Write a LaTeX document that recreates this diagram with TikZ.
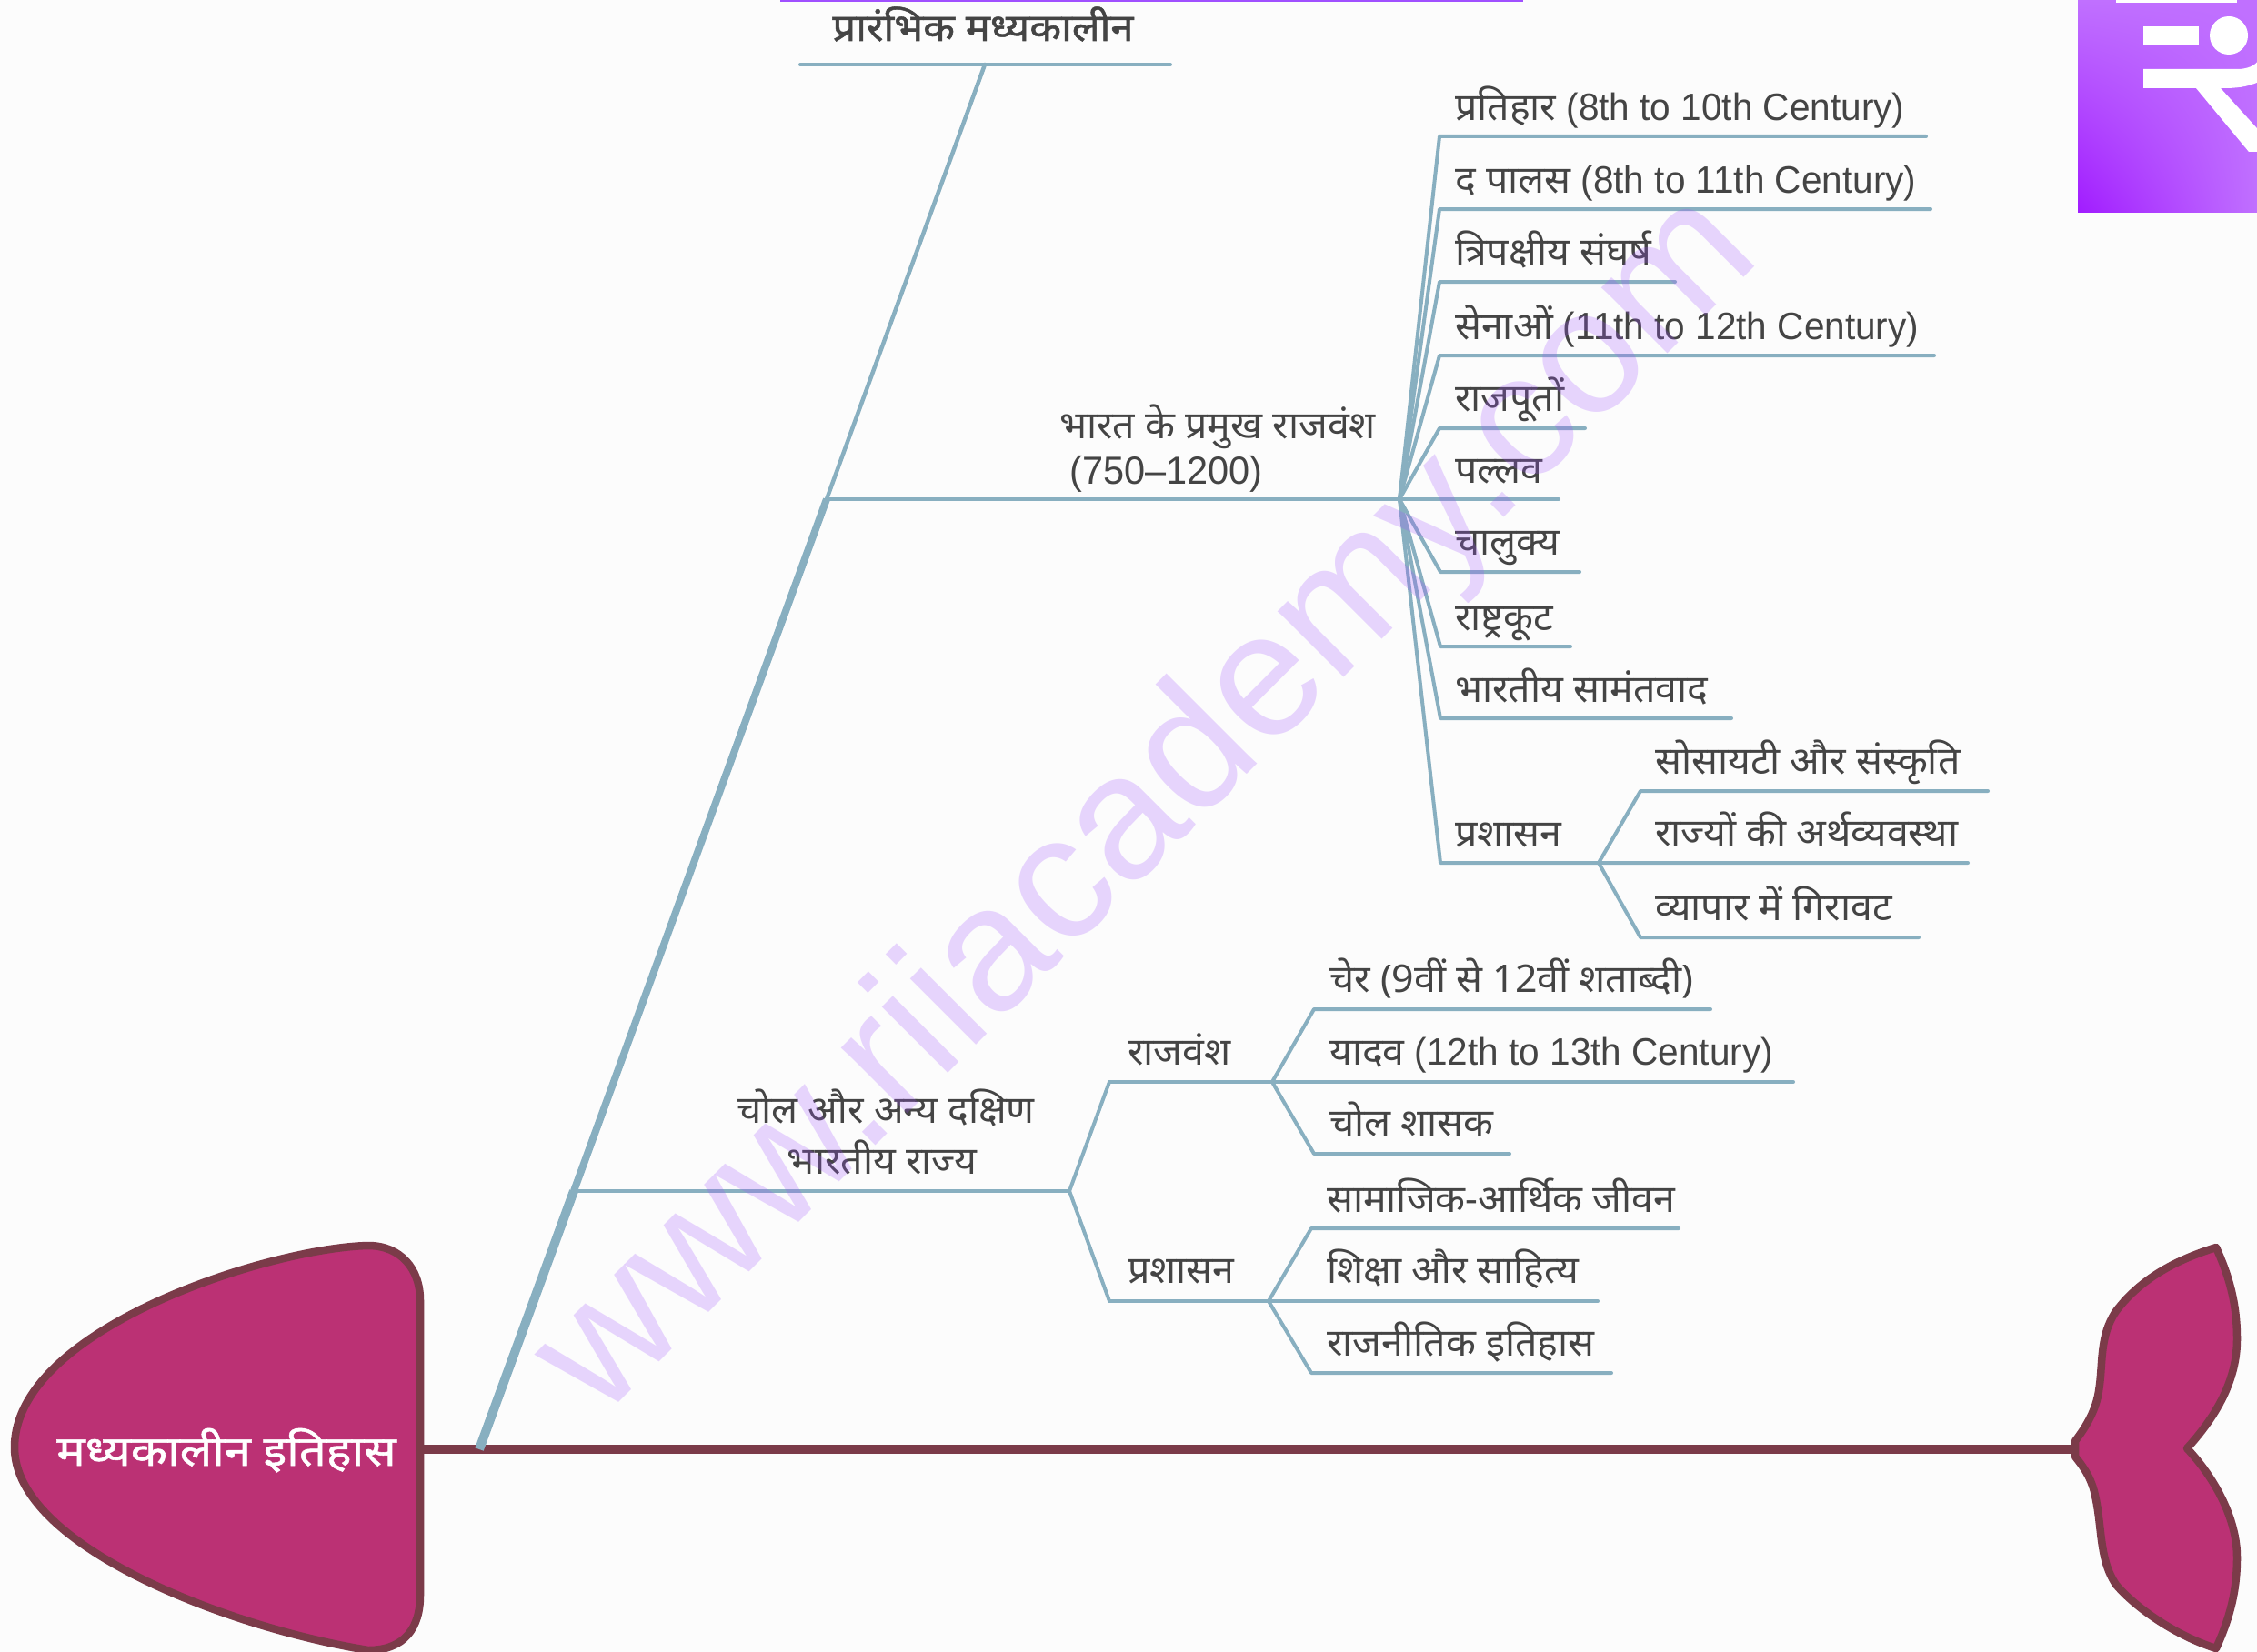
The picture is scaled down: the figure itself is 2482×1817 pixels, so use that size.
\documentclass[tikz,border=0pt]{standalone}
\usetikzlibrary{shadings}
\usepackage{fontspec}
\setmainfont[Script=Devanagari,FakeStretch=1.02]{Noto Sans}
\newfontfamily\latn[FakeStretch=0.965]{Liberation Sans}
\newfontfamily\wmfont{Liberation Sans}
\newfontfamily\heavy[Script=Devanagari,FakeStretch=1.08,FakeBold=1.2]{Noto Sans}
\newfontfamily\heavyroot[Script=Devanagari,FakeStretch=1.14,FakeBold=1.2]{Noto Sans}
\definecolor{bone}{HTML}{88AFC0}
\definecolor{fishline}{HTML}{7B3B49}
\definecolor{fishfill}{HTML}{BB3174}
\definecolor{txt}{HTML}{444444}
\definecolor{page}{HTML}{FCFCFC}
\definecolor{wmark}{HTML}{A050FF}
\definecolor{logodark}{HTML}{A11CFF}
\definecolor{logolight}{HTML}{C070FF}

\begin{document}
\begin{tikzpicture}[x=1pt,y=-1pt,
    lbl/.style={anchor=base west,inner sep=0pt,text=txt,font=\fontsize{42}{50}\selectfont},
    title/.style={anchor=base,inner sep=0pt,text=txt,font=\fontsize{42}{50}\selectfont},
    twig/.style={draw=bone,line width=4pt,line join=round,line cap=round},
    body/.style={draw=fishline,fill=fishfill,line width=8.5pt,line join=round}]

  \useasboundingbox (0,0) rectangle (2482,1817);
  \fill[page] (0,0) rectangle (2482,1817);

  % top bar and logo
  \coordinate (barl) at (858,1);
  \coordinate (barr) at (1675,1);
  \draw[color=wmark,line width=3pt] (barl) -- (barr);

  \begin{scope}
    \clip (2285,0) rectangle (2482,233);
    \shade[lower left=logodark,lower right=logolight,upper left=logolight,upper right=logolight]
      (2285,0) rectangle (2482,233);
    \fill[white] (2327,0) rectangle (2460,3);
    \fill[white] (2357,29) rectangle (2418,49);
    \fill[white] (2451,39) circle (21);
    \fill[white] (2357,76) -- (2460,76) .. controls (2472,76) and (2480,72) .. (2484,66)
      -- (2484,90) .. controls (2470,96) and (2460,97) .. (2442,97)
      -- (2490,150) -- (2490,167) -- (2473,167) -- (2415,97) -- (2357,97) -- cycle;
  \end{scope}

  % backbone
  \coordinate (neck) at (464,1594);
  \coordinate (rump) at (2282,1594);
  \coordinate (s0) at (527,1594);
  \coordinate (s1) at (631,1310);
  \coordinate (s2) at (909,549);
  \coordinate (s3) at (1083,71);

  \draw[color=fishline,line width=10pt] (neck) -- (rump);
  \draw[color=bone,line width=10pt] (s0) -- (s1);
  \draw[color=bone,line width=8pt] (s1) -- (s2);
  \draw[color=bone,line width=4.5pt,line cap=round] (s2) -- (s3);

  \draw[body] (462,1594) -- (462,1430) .. controls (462,1395) and (440,1370) .. (405,1370)
    .. controls (300,1372) and (16,1460) .. (16,1592)
    .. controls (16,1700) and (250,1790) .. (405,1815)
    .. controls (445,1815) and (462,1790) .. (462,1755) -- cycle;
  \draw[body] (2282,1585) .. controls (2295,1568) and (2305,1550) .. (2308,1530)
    .. controls (2313,1500) and (2308,1470) .. (2327,1442)
    .. controls (2355,1405) and (2395,1385) .. (2437,1372)
    .. controls (2452,1405) and (2460,1435) .. (2460,1473)
    .. controls (2460,1520) and (2435,1560) .. (2405,1593)
    .. controls (2435,1625) and (2460,1670) .. (2460,1713)
    .. controls (2460,1750) and (2452,1780) .. (2437,1813)
    .. controls (2395,1800) and (2350,1770) .. (2327,1743)
    .. controls (2308,1715) and (2312,1680) .. (2304,1645)
    .. controls (2300,1625) and (2290,1612) .. (2282,1602) -- cycle;

  \node[anchor=base,inner sep=0pt,text=white,font=\fontsize{46}{50}\selectfont\heavyroot]
    (root) at (249,1612) {मध्यकालीन इतिहास};

  % first rib
  \coordinate (t1) at (880,71);
  \coordinate (t2) at (1287,71);
  \draw[twig] (t1) -- (t2);
  \node[title,font=\fontsize{42}{50}\selectfont\heavy] (early) at (1081,45) {प्रारंभिक मध्यकालीन};

  % second rib with its fan
  \coordinate (fan) at (1539,549);
  \coordinate (palend) at (1714,549);
  \draw[twig] (s2) -- (palend);
  \node[lbl] (dyn) at (1165,482) {भारत के प्रमुख राजवंश};
  \node[lbl,font=\fontsize{43}{50}\selectfont\latn] (dyn2) at (1176,532) {(750–1200)};

  \coordinate (e1) at (1583,150);
  \coordinate (e2) at (1583,230);
  \coordinate (e3) at (1583,310);
  \coordinate (e4) at (1583,391);
  \coordinate (e5) at (1583,471);
  \coordinate (e7) at (1584,629);
  \coordinate (e8) at (1584,711);
  \coordinate (e9) at (1584,790);
  \coordinate (e10) at (1584,949);
  \coordinate (r1) at (2118,150);
  \coordinate (r2) at (2123,230);
  \coordinate (r3) at (1842,310);
  \coordinate (r4) at (2127,391);
  \coordinate (r5) at (1743,471);
  \coordinate (r7) at (1737,629);
  \coordinate (r8) at (1727,711);
  \coordinate (r9) at (1904,790);

  \draw[twig] (fan) -- (e1) -- (r1);
  \draw[twig] (fan) -- (e2) -- (r2);
  \draw[twig] (fan) -- (e3) -- (r3);
  \draw[twig] (fan) -- (e4) -- (r4);
  \draw[twig] (fan) -- (e5) -- (r5);
  \draw[twig] (fan) -- (e7) -- (r7);
  \draw[twig] (fan) -- (e8) -- (r8);
  \draw[twig] (fan) -- (e9) -- (r9);

  \node[lbl] (n1) at (1600,132) {प्रतिहार {\latn (8th to 10th Century)}};
  \node[lbl] (n2) at (1600,212) {द पालस {\latn (8th to 11th Century)}};
  \node[lbl] (n3) at (1600,291) {त्रिपक्षीय संघर्ष};
  \node[lbl] (n4) at (1600,373) {सेनाओं {\latn (11th to 12th Century)}};
  \node[lbl] (n5) at (1600,452) {राजपूतों};
  \node[lbl] (n6) at (1600,531) {पल्लव};
  \node[lbl] (n7) at (1600,610) {चालुक्य};
  \node[lbl] (n8) at (1600,693) {राष्ट्रकूट};
  \node[lbl] (n9) at (1600,772) {भारतीय सामंतवाद};
  \node[lbl] (n10) at (1600,931) {प्रशासन};

  % admin sub branch
  \coordinate (sf) at (1758,949);
  \coordinate (a1) at (1804,870);
  \coordinate (a3) at (1804,1031);
  \coordinate (b1) at (2186,870);
  \coordinate (b2) at (2164,949);
  \coordinate (b3) at (2110,1031);
  \draw[twig] (fan) -- (e10) -- (b2);
  \draw[twig] (sf) -- (a1) -- (b1);
  \draw[twig] (sf) -- (a3) -- (b3);
  \node[lbl] (m1) at (1820,851) {सोसायटी और संस्कृति};
  \node[lbl] (m2) at (1820,930) {राज्यों की अर्थव्यवस्था};
  \node[lbl] (m3) at (1820,1012) {व्यापार में गिरावट};

  % third rib
  \coordinate (cf) at (1176,1310);
  \coordinate (c1) at (1220,1190);
  \coordinate (c2) at (1220,1431);
  \draw[twig] (s1) -- (cf);
  \draw[twig] (cf) -- (c1);
  \draw[twig] (cf) -- (c2);
  \node[title] (sth1) at (974,1235) {चोल और अन्य दक्षिण};
  \node[title] (sth2) at (970,1291) {भारतीय राज्य};

  \coordinate (d0) at (1399,1190);
  \coordinate (d1) at (1445,1110);
  \coordinate (d3) at (1445,1269);
  \coordinate (g1) at (1881,1110);
  \coordinate (g2) at (1972,1190);
  \coordinate (g3) at (1660,1269);
  \draw[twig] (c1) -- (g2);
  \draw[twig] (d0) -- (d1) -- (g1);
  \draw[twig] (d0) -- (d3) -- (g3);
  \node[lbl] (k0) at (1240,1171) {राजवंश};
  \node[lbl] (k1) at (1462,1091) {चेर (9वीं से 12वीं शताब्दी)};
  \node[lbl] (k2) at (1462,1171) {यादव {\latn (12th to 13th Century)}};
  \node[lbl] (k3) at (1462,1249) {चोल शासक};

  \coordinate (h0) at (1395,1431);
  \coordinate (h1) at (1442,1351);
  \coordinate (h3) at (1442,1510);
  \coordinate (j1) at (1846,1351);
  \coordinate (j2) at (1757,1431);
  \coordinate (j3) at (1772,1510);
  \draw[twig] (c2) -- (j2);
  \draw[twig] (h0) -- (h1) -- (j1);
  \draw[twig] (h0) -- (h3) -- (j3);
  \node[lbl] (q0) at (1240,1411) {प्रशासन};
  \node[lbl] (q1) at (1459,1333) {सामाजिक-आर्थिक जीवन};
  \node[lbl] (q2) at (1459,1411) {शिक्षा और साहित्य};
  \node[lbl] (q3) at (1459,1491) {राजनीतिक इतिहास};

  % watermark on top
  \node[rotate=45,inner sep=0pt,text=wmark,opacity=0.23,
    font=\fontsize{194}{200}\selectfont\wmfont] (wm) at (1264,888) {www.riiacademy.com};

\end{tikzpicture}
\end{document}
